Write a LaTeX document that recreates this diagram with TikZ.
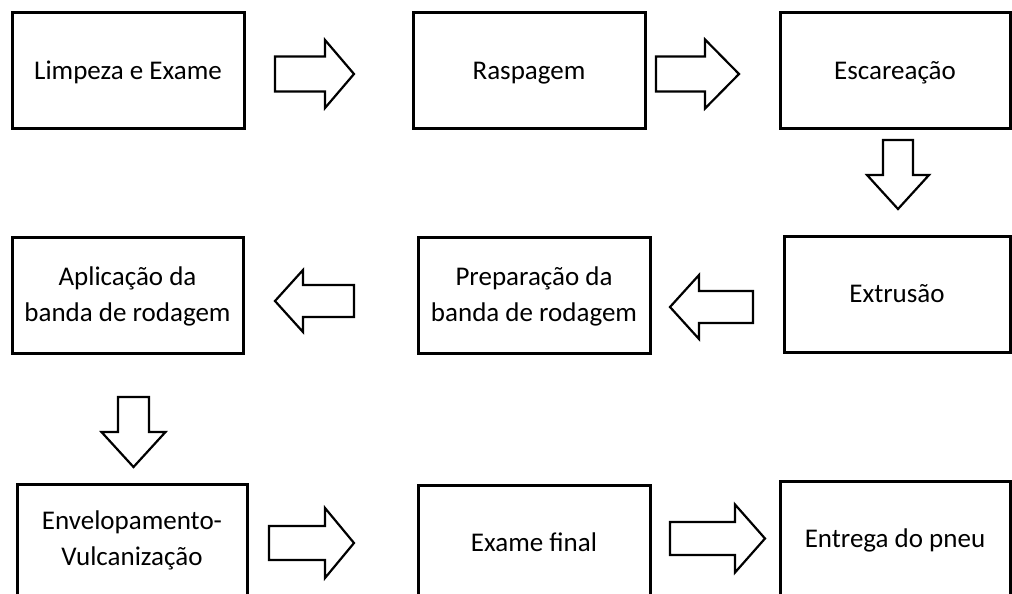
\documentclass[tikz,border=0pt]{standalone}
\usepackage{fontspec}
\setmainfont{Carlito}
\tikzset{
  box/.style={draw=black, line width=3pt, fill=white, inner sep=0pt,
    font=\fontsize{27}{36}\selectfont, align=center,
    text height=17.4pt, text depth=0pt},
  twolines/.style={text height=53.4pt},
  blockarrow/.style={draw=black, line width=2.2pt, fill=white, line join=miter}
}
% horizontal block arrow: tail x, head base x, tip x, centre y, shaft half, head half
\newcommand\myblockH[6]{%
  \draw[blockarrow] (#1,#4-#5) -- (#2,#4-#5) -- (#2,#4-#6) -- (#3,#4)
    -- (#2,#4+#6) -- (#2,#4+#5) -- (#1,#4+#5) -- cycle;}
% vertical block arrow: centre x, tail y, head base y, tip y, shaft half, head half
\newcommand\myblockV[6]{%
  \draw[blockarrow] (#1-#5,#2) -- (#1-#5,#3) -- (#1-#6,#3) -- (#1,#4)
    -- (#1+#6,#3) -- (#1+#5,#3) -- (#1+#5,#2) -- cycle;}
\begin{document}
\begin{tikzpicture}[x=1pt,y=-1pt]
\useasboundingbox (0,0) rectangle (1012,594);
\clip (0,0) rectangle (1012,594);
\fill[white] (0,0) rectangle (1012,594);

\node[box, minimum width=232pt, minimum height=115pt] (limpeza) at (128,70.5) {Limpeza e Exame};
\node[box, minimum width=232pt, minimum height=115pt] (raspagem) at (529,70.5) {Raspagem};
\node[box, minimum width=230pt, minimum height=115pt] (escareacao) at (895,70.5) {Escareação};
\node[box, minimum width=226pt, minimum height=116pt] (extrusao) at (897,294) {Extrusão};
\node[box, twolines, minimum width=232pt, minimum height=116pt] (preparacao) at (534,295) {Preparação da\\banda de rodagem};
\node[box, twolines, minimum width=231pt, minimum height=116pt] (aplicacao) at (127.5,295) {Aplicação da\\banda de rodagem};
\node[box, twolines, text depth=7pt, minimum width=230pt, minimum height=116pt] (envelopamento) at (132,542) {Envelopamento-\\Vulcanização};
\node[box, minimum width=232pt, minimum height=116pt] (examefinal) at (534,543) {Exame final};
\node[box, minimum width=230pt, minimum height=116pt] (entrega) at (895,539) {Entrega do pneu};

\myblockH{275}{325}{354}{74}{17.5}{34}
\myblockH{656}{705}{739}{74}{17.5}{34.5}
\myblockV{898}{140}{175}{209}{15}{31}
\myblockH{753}{699}{670}{307}{16}{32}
\myblockH{354}{303}{275}{301}{16}{31}
\myblockV{133.5}{397}{432}{467}{15.5}{32}
\myblockH{269}{325}{354}{543}{17}{35}
\myblockH{670}{735}{765}{538.5}{16.5}{34}
\end{tikzpicture}
\end{document}
